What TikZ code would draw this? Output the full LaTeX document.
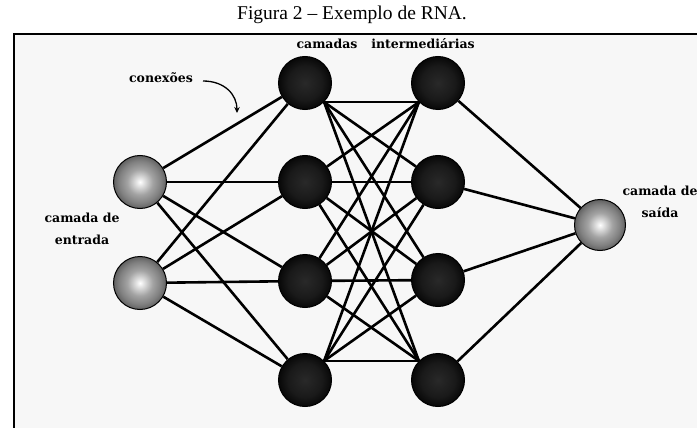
\documentclass[tikz,border=0pt]{standalone}
\usepackage{fontspec}
\setmainfont{Liberation Serif}
\newfontfamily\labelfont{DejaVu Serif}
\usetikzlibrary{arrows.meta}

% grey input/output neuron with a bright centre
\pgfdeclareradialshading{greyball}{\pgfpoint{0bp}{0bp}}{%
  color(0bp)=(white); color(4bp)=(white!88!black); color(12bp)=(black!36);
  color(20bp)=(black!50); color(25bp)=(black!62); color(50bp)=(black!62)}
% dark hidden neuron
\pgfdeclareradialshading{darkball}{\pgfpoint{0bp}{0bp}}{%
  color(0bp)=(black!84); color(16bp)=(black!90); color(25bp)=(black!97);
  color(50bp)=(black!97)}

\begin{document}
\begin{tikzpicture}[x=1pt,y=-1pt,
  neuron/.style={circle, draw=black, line width=1pt, minimum size=53pt, inner sep=0pt},
  io/.style={neuron, shading=greyball},
  hidden/.style={neuron, shading=darkball},
  link/.style={line width=2.6pt, black},
  lbl/.style={font=\labelfont\bfseries\fontsize{12.5}{21.5}\selectfont,
              align=center, inner sep=0pt, anchor=base}
]
\useasboundingbox (0,0) rectangle (697,428);
\fill[white] (0,0) rectangle (697,428);
\fill[black!3] (14,34) rectangle (697,428);
\draw[line width=2pt] (14,428) -- (14,34) -- (697,34);

% caption
\node[font=\fontsize{19.5}{21}\selectfont, anchor=base] (title) at (352,20)
  {Figura 2 – Exemplo de RNA.};

% neurons
\node[io] (in1) at (140,182) {};
\node[io] (in2) at (140,283) {};
\node[hidden] (h11) at (305,83) {};
\node[hidden] (h12) at (305,182) {};
\node[hidden] (h13) at (305,281) {};
\node[hidden] (h14) at (305,380) {};
\node[hidden] (h21) at (438,83) {};
\node[hidden] (h22) at (438,182) {};
\node[hidden] (h23) at (438,280) {};
\node[hidden] (h24) at (438,380) {};
\node[io, minimum size=51pt] (out) at (600,225) {};

% input layer -> first hidden layer
\foreach \i in {in1,in2}
  \foreach \j in {h11,h12,h13,h14}
    \draw[link] (\i) -- (\j);

% first hidden layer -> second hidden layer
\foreach \i/\a in {h11/.south east, h12/, h13/, h14/.north east}
  \foreach \j/\b in {h21/.south west, h22/, h23/, h24/.north west}
    \draw[link] (\i\a) -- (\j\b);

% second hidden layer -> output
\foreach \j in {h21,h22,h23,h24}
  \draw[link] (\j) -- (out);

% labels (base anchor sits on the last line)
\node[lbl] (camadas) at (327,49) {camadas};
\node[lbl] (interm) at (423,49) {intermediárias};
\node[lbl] (conexoes) at (161,83) {conexões};
\node[lbl] (entrada) at (82,244) {camada de\\entrada};
\node[lbl] (saida) at (660,217) {camada de\\saída};

% pointer from the "conexões" label
\coordinate (arrowfrom) at (203,81);
\coordinate (arrowto) at (237,113);
\draw[line width=1.3pt, -{Stealth[length=6pt, width=5.5pt]}]
  (arrowfrom) .. controls (225,81) and (237,95) .. (arrowto);
\end{tikzpicture}
\end{document}
